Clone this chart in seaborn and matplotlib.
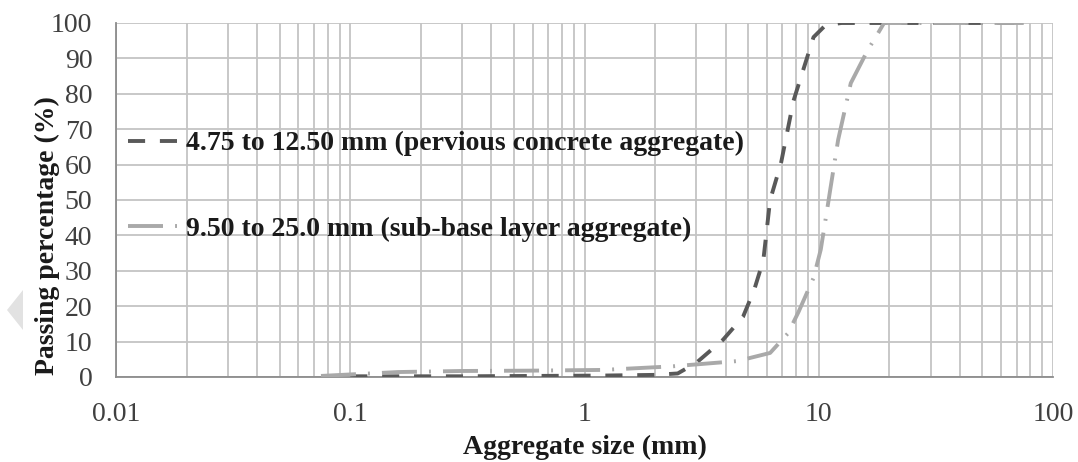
import numpy as np
import pandas as pd
import matplotlib
matplotlib.use("Agg")
import matplotlib.pyplot as plt
from matplotlib.ticker import LogLocator, FixedLocator, NullFormatter, FuncFormatter
from matplotlib.patches import Polygon
import seaborn as sns

# Grading curves: sieve size (mm) vs. cumulative passing (%)
fine_label = "4.75 to 12.50 mm (pervious concrete aggregate)"
fine_size = [0.1, 0.3, 0.6, 1.18, 2.0, 2.5, 3.0, 3.9, 4.75, 5.3, 5.8, 6.2,
             6.9, 7.8, 9.5, 10.7, 12.5, 19.0, 25.0, 37.5, 50.0, 75.0]
fine_pass = [0.2, 0.2, 0.3, 0.4, 0.6, 1.0, 4.0, 10.5, 17.0, 24.6, 33.0, 50.0,
             60.4, 78.0, 96.0, 99.4, 100, 100, 100, 100, 100, 100]

coarse_label = "9.50 to 25.0 mm (sub-base layer aggregate)"
coarse_size = [0.075, 0.16, 0.3, 0.6, 1.2, 2.36, 4.5, 6.2, 7.4, 8.2, 9.5, 10.2,
               10.9, 11.2, 12.1, 13.7, 16.2, 17.5, 19.0, 25.0, 37.5, 50.0, 75.0]
coarse_pass = [0.3, 1.4, 1.7, 1.8, 2.0, 3.0, 4.5, 6.8, 12.4, 18.4, 28.0, 36.0,
               48.0, 53.0, 67.0, 83.0, 92.4, 96.0, 100, 100, 100, 100, 100]

y_ticks = list(range(0, 101, 10))
x_ticks = [0.01, 0.1, 1, 10, 100]
x_tick_labels = ["0.01", "0.1", "1", "10", "100"]

df = pd.concat([
    pd.DataFrame({"size": fine_size, "passing": fine_pass, "series": fine_label}),
    pd.DataFrame({"size": coarse_size, "passing": coarse_pass, "series": coarse_label}),
], ignore_index=True)

sns.set_style("white")
plt.rcParams["font.family"] = ["Liberation Serif", "DejaVu Serif"]

FS = 20

fig = plt.figure(figsize=(10.78, 4.62), dpi=100)
ax = fig.add_axes([116 / 1078, 1 - 377 / 462, 937 / 1078, 354 / 462])

palette = {fine_label: "#595959", coarse_label: "#a9a9a9"}
dashes = {fine_label: (4.4, 3.8), coarse_label: (9.0, 3.1, 0.5, 3.1)}
sns.lineplot(data=df, x="size", y="passing", hue="series", style="series",
             palette=palette, dashes=dashes, sort=False, estimator=None,
             linewidth=2.8, ax=ax, zorder=3)

ax.set_xscale("log")
ax.set_xlim(0.01, 100)
ax.set_ylim(0, 100)
ax.xaxis.set_major_locator(FixedLocator(x_ticks))
ax.xaxis.set_major_formatter(FuncFormatter(lambda v, p: x_tick_labels[x_ticks.index(v)] if v in x_ticks else ""))
ax.xaxis.set_minor_locator(LogLocator(base=10, subs=np.arange(2, 10)))
ax.xaxis.set_minor_formatter(NullFormatter())
ax.set_yticks(y_ticks)

grid_col = "#c4c4c4"
ax.grid(True, which="major", axis="both", color=grid_col, linewidth=1.3, zorder=0)
ax.grid(True, which="minor", axis="x", color=grid_col, linewidth=1.3, zorder=0)
ax.set_axisbelow(True)

for side in ["top", "right"]:
    ax.spines[side].set_visible(False)
for side in ["left", "bottom"]:
    ax.spines[side].set_color("#8c8c8c")
    ax.spines[side].set_linewidth(1.3)

ax.tick_params(axis="x", which="major", direction="out", length=6, width=1.3,
               color="#8c8c8c", labelsize=FS, labelcolor="#404040", pad=12)
ax.tick_params(axis="x", which="minor", length=0)
ax.tick_params(axis="y", which="major", direction="out", length=8, width=1.3,
               color=grid_col, labelsize=FS, labelcolor="#404040", pad=9)

ax.set_xlabel("Aggregate size (mm)", fontsize=FS, fontweight="bold", color="#1a1a1a", labelpad=6)
ax.set_ylabel("Passing percentage (%)", fontsize=FS, fontweight="bold", color="#1a1a1a")
ax.yaxis.set_label_coords(-0.0598, 0.40)

leg = ax.legend(loc="upper left", bbox_to_anchor=(0.0128, 0.695), frameon=False,
                handlelength=1.8, handletextpad=0.3, labelspacing=2.15,
                prop={"size": FS, "weight": "bold"}, borderaxespad=0, borderpad=0)
for t in leg.get_texts():
    t.set_color("#1a1a1a")

# faint navigation arrow at the left edge
tri = Polygon([[23 / 1078, 1 - 290 / 462], [23 / 1078, 1 - 330 / 462], [7 / 1078, 1 - 310 / 462]],
              closed=True, transform=fig.transFigure, facecolor="#e2e2e2", edgecolor="none")
fig.patches.append(tri)

fig.savefig("out.png", dpi=100)
